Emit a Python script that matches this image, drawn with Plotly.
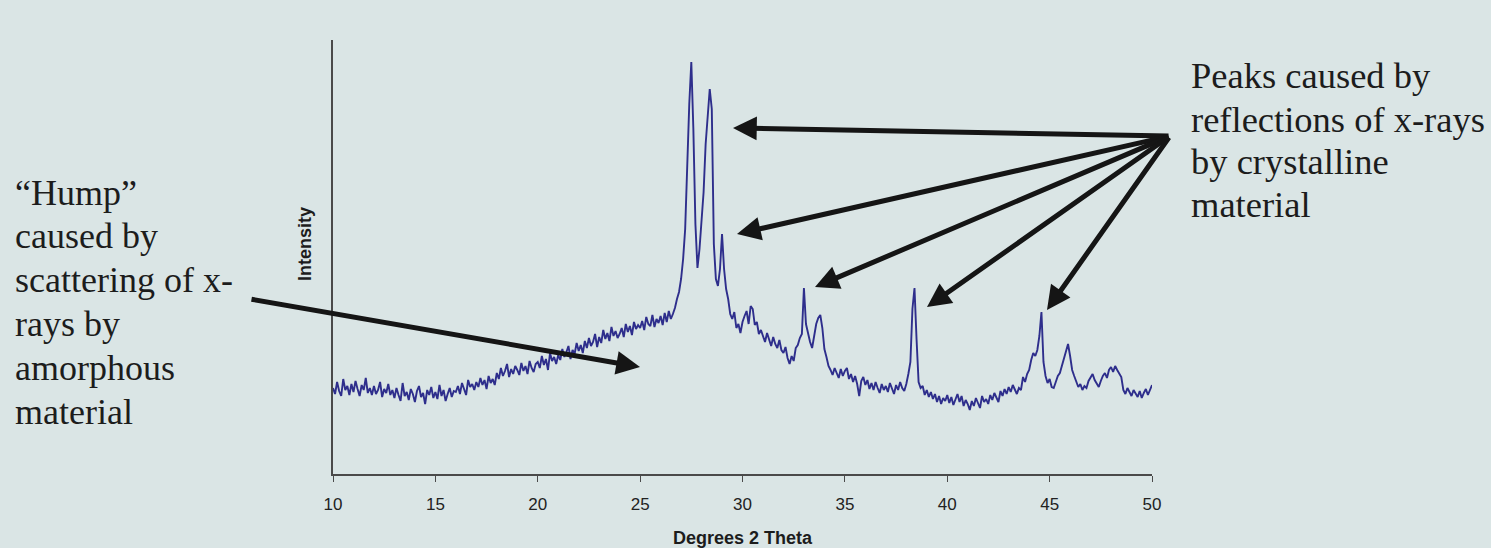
import plotly.graph_objects as go

# ---------------- data ----------------
# intensity in arbitrary units, one row per degree, 0.1 degree steps
row_start_deg = list(range(10, 50))
intensity_rows = [
    [86, 80, 92, 83, 78, 95, 84, 88, 79, 90],        # 10
    [82, 93, 85, 78, 89, 84, 96, 81, 86, 79],        # 11
    [88, 80, 84, 92, 77, 85, 81, 90, 79, 84],        # 12
    [76, 86, 79, 73, 91, 78, 82, 74, 85, 80],        # 13
    [72, 83, 88, 77, 81, 70, 84, 79, 87, 76],        # 14
    [82, 75, 89, 78, 84, 73, 80, 86, 77, 83],        # 15
    [82, 88, 80, 91, 85, 79, 94, 87, 90, 84],        # 16
    [92, 87, 96, 89, 94, 85, 98, 91, 95, 89],        # 17
    [101, 95, 106, 98, 103, 110, 97, 105, 100, 108], # 18
    [104, 99, 111, 103, 108, 100, 113, 106, 102, 110],  # 19
    [112, 106, 118, 109, 115, 104, 121, 113, 117, 110], # 20
    [119, 114, 125, 117, 122, 128, 115, 124, 120, 131], # 21
    [123, 129, 121, 133, 126, 136, 128, 132, 140, 127], # 22
    [137, 131, 144, 135, 141, 133, 147, 138, 143, 136], # 23
    [140, 146, 137, 150, 142, 148, 139, 152, 145, 149], # 24
    [146, 153, 144, 157, 150, 148, 159, 147, 155, 151], # 25
    [158, 149, 161, 152, 163, 155, 160, 166, 175, 182], # 26
    [195, 215, 245, 310, 370, 412, 345, 250, 206, 225], # 27
    [250, 282, 330, 362, 385, 365, 230, 195, 188, 205], # 28
    [240, 205, 185, 175, 160, 155, 162, 146, 150, 141], # 29
    [152, 158, 163, 150, 168, 165, 149, 152, 140, 144], # 30
    [138, 132, 141, 135, 128, 137, 130, 126, 134, 124], # 31
    [121, 127, 116, 110, 118, 113, 126, 129, 136, 140], # 32
    [186, 150, 140, 132, 126, 140, 150, 156, 159, 146], # 33
    [125, 117, 108, 104, 99, 106, 101, 96, 105, 98],    # 34
    [103, 106, 95, 100, 92, 98, 90, 78, 93, 97],        # 35
    [89, 94, 85, 91, 84, 92, 86, 81, 90, 84],           # 36
    [88, 82, 91, 85, 80, 89, 84, 92, 86, 83],           # 37
    [90, 100, 112, 165, 186, 135, 92, 86, 88, 79],      # 38
    [84, 77, 82, 75, 80, 72, 78, 70, 76, 73],           # 39
    [79, 71, 77, 69, 75, 80, 72, 78, 68, 74],           # 40
    [70, 64, 73, 68, 76, 71, 66, 78, 72, 75],           # 41
    [70, 79, 74, 81, 76, 72, 83, 78, 85, 80],           # 42
    [87, 82, 89, 84, 80, 86, 84, 97, 92, 100],          # 43
    [104, 114, 121, 118, 124, 138, 162, 112, 98, 91],   # 44
    [95, 87, 86, 92, 98, 101, 108, 114, 122, 130],      # 45
    [118, 104, 98, 92, 87, 90, 84, 88, 86, 93],         # 46
    [97, 100, 94, 90, 87, 93, 98, 101, 96, 104],        # 47
    [107, 102, 108, 104, 100, 97, 84, 80, 86, 82],      # 48
    [78, 84, 80, 77, 83, 76, 81, 85, 79, 84],           # 49
]
last_point_deg = 50.0
last_point_intensity = 89
step_deg = 0.1

x_ticks = [10, 15, 20, 25, 30, 35, 40, 45, 50]

left_text_lines = ["\u201cHump\u201d", "caused by", "scattering of x-", "rays by",
                   "amorphous", "material"]
right_text_lines = ["Peaks caused by", "reflections of x-rays", "by crystalline",
                    "material"]

# build the series
two_theta = []
intensity = []
for start, row in zip(row_start_deg, intensity_rows):
    for j, v in enumerate(row):
        two_theta.append(round(start + step_deg * j, 2))
        intensity.append(v)
two_theta.append(last_point_deg)
intensity.append(last_point_intensity)

# ---------------- layout constants (pixels) ----------------
W, H = 1491, 548
L, R, T, B = 333, 1152, 40, 474
BG = "#dae5e5"
INK = "#1c1c1c"
SERIF = "Liberation Serif"
SANS = "Liberation Sans"


def paper(px, py):
    return (px - L) / (R - L), (B - py) / (B - T)


fig = go.Figure()
fig.add_trace(go.Scatter(
    x=two_theta, y=intensity, mode="lines",
    line=dict(color="#2e2e8c", width=1.9),
    hoverinfo="skip", showlegend=False,
))

annotations = []

# arrows
peak_heads = [(733, 128), (737, 234), (815, 287), (927, 307), (1047, 310)]
peak_tail = (1170, 136)
hump_head, hump_tail = (640, 367), (250, 299)
for head, tail in [(h, peak_tail) for h in peak_heads] + [(hump_head, hump_tail)]:
    hx, hy = paper(*head)
    annotations.append(dict(
        x=hx, y=hy, xref="paper", yref="paper",
        ax=tail[0] - head[0], ay=tail[1] - head[1], axref="pixel", ayref="pixel",
        text="", showarrow=True, arrowhead=2, arrowsize=0.95, arrowwidth=5,
        arrowcolor="#151515",
    ))

# text blocks
left_mid = [193, 236, 280, 324, 368, 412]
for line, py in zip(left_text_lines, left_mid):
    x0, y0 = paper(13, py)
    annotations.append(dict(x=x0, y=y0, xref="paper", yref="paper", text=line,
                            showarrow=False, xanchor="left", yanchor="middle",
                            font=dict(family=SERIF, size=36, color=INK)))
right_mid = [76, 119, 161, 204]
for line, py in zip(right_text_lines, right_mid):
    x0, y0 = paper(1189, py)
    annotations.append(dict(x=x0, y=y0, xref="paper", yref="paper", text=line,
                            showarrow=False, xanchor="left", yanchor="middle",
                            font=dict(family=SERIF, size=36.5, color=INK)))

# y-axis title
ix, iy = paper(305, 244)
annotations.append(dict(x=ix, y=iy, xref="paper", yref="paper", text="Intensity",
                        textangle=-90, showarrow=False, xanchor="center", yanchor="middle",
                        font=dict(family=SANS, size=18, color=INK, weight="bold")))

fig.update_layout(
    width=W, height=H,
    margin=dict(l=L, r=W - R, t=T, b=H - B, pad=0),
    paper_bgcolor=BG, plot_bgcolor=BG,
    annotations=annotations,
    xaxis=dict(
        range=[10, 50], tickvals=x_ticks, ticktext=[str(t) for t in x_ticks],
        showgrid=False, zeroline=False, showline=True, linecolor="#4a4a4a", linewidth=1.5,
        ticks="outside", ticklen=6, tickcolor="#4a4a4a", tickwidth=1.2,
        tickfont=dict(family=SANS, size=17, color="#222222"), ticklabelstandoff=8,
        title=dict(text="Degrees 2 Theta", standoff=18,
                   font=dict(family=SANS, size=18, color=INK, weight="bold")),
        automargin=False,
    ),
    yaxis=dict(
        range=[0, B - T], showgrid=False, zeroline=False, showline=True,
        linecolor="#4a4a4a", linewidth=1.5, showticklabels=False, ticks="",
        automargin=False,
    ),
)

fig.write_html("out.html")
